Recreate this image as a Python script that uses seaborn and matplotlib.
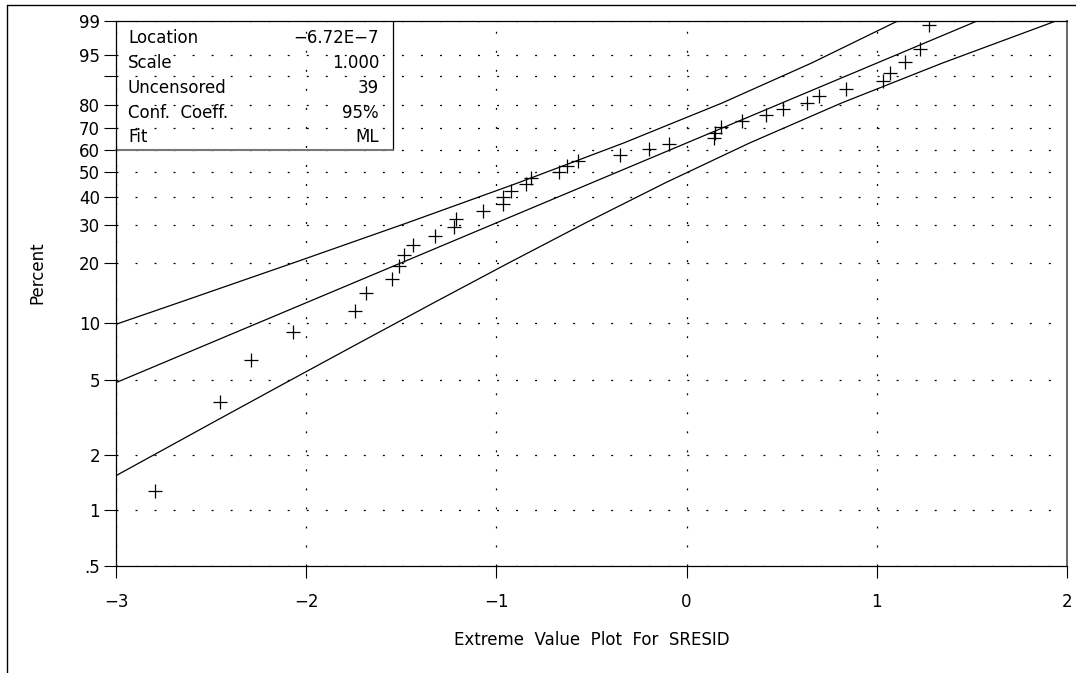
import numpy as np
import matplotlib
matplotlib.use("Agg")
import matplotlib.pyplot as plt
from matplotlib.lines import Line2D
from matplotlib.ticker import NullLocator
import seaborn as sns

# Ordered standardized residuals and their plotting positions (percent)
sresid = [-2.795, -2.454, -2.289, -2.070, -1.741, -1.683, -1.550, -1.510, -1.486,
          -1.436, -1.325, -1.225, -1.211, -1.072, -0.967, -0.967, -0.922, -0.845,
          -0.820, -0.672, -0.628, -0.572, -0.350, -0.199, -0.090, 0.142, 0.151,
          0.181, 0.291, 0.418, 0.508, 0.633, 0.697, 0.838, 1.032, 1.069, 1.149,
          1.225, 1.275]
percent = [1.28, 3.85, 6.41, 8.97, 11.54, 14.10, 16.67, 19.23, 21.79, 24.36,
           26.92, 29.49, 32.05, 34.62, 37.18, 39.74, 42.31, 44.87, 47.44, 50.00,
           52.56, 55.13, 57.69, 60.26, 62.82, 65.38, 67.95, 70.51, 73.08, 75.64,
           78.21, 80.77, 83.33, 85.90, 88.46, 91.03, 93.59, 96.15, 98.72]

# 95% confidence band around the fitted distribution
upper_x = [-3.037, -2.671, -2.066, -1.469, -0.887, -0.331, 0.186, 0.656, 1.174]
upper_pct = [9.54, 12.66, 20.00, 30.78, 45.48, 63.21, 80.77, 93.40, 99.30]
lower_x = [-3.026, -2.490, -2.106, -1.719, -1.329, -0.934, -0.531, -0.113,
           0.331, 0.814, 1.344, 2.026]
lower_pct = [1.49, 2.98, 4.86, 7.88, 12.66, 20.00, 30.78, 45.48, 63.21,
             80.77, 93.40, 99.30]

# Maximum-likelihood fit summary
location = -6.72e-7
scale = 1.000
n_uncensored = 39
conf_coeff = 95
fit_method = "ML"

x_ticks = [-3, -2, -1, 0, 1, 2]
y_ticks = [0.5, 1, 2, 5, 10, 20, 30, 40, 50, 60, 70, 80, 90, 95, 99]
y_tick_labels = [".5", "1", "2", "5", "10", "20", "30", "40", "50", "60",
                 "70", "80", "", "95", "99"]

sns.set_style("ticks")
plt.rcParams["font.family"] = ["DejaVu Sans"]
plt.rcParams["lines.scale_dashes"] = False
plt.rcParams["axes.labelcolor"] = "black"
plt.rcParams["text.color"] = "black"
FS = 12


def to_ev(p):
    """Percent -> smallest-extreme-value probability scale."""
    p = np.clip(np.asarray(p, dtype=float) / 100.0, 1e-9, 1 - 1e-12)
    return np.log(-np.log1p(-p))


def from_ev(z):
    return 100.0 * (-np.expm1(-np.exp(np.asarray(z, dtype=float))))


W, H = 1076, 673
fig = plt.figure(figsize=(W / 100, H / 100), dpi=100)
ax = fig.add_axes([116 / W, 1 - 566 / H, 951 / W, 545 / H])
ax.set_yscale("function", functions=(to_ev, from_ev))

# Fitted line from the estimated location and scale
fit_x = np.array([-3.0, 2.0])
fit_pct = from_ev((fit_x - location) / scale)

line_kw = dict(color="black", linewidth=0.9, estimator=None, sort=False,
               ax=ax, legend=False)
sns.lineplot(x=upper_x, y=upper_pct, **line_kw)
sns.lineplot(x=list(fit_x), y=list(fit_pct), **line_kw)
sns.lineplot(x=lower_x, y=lower_pct, **line_kw)
sns.scatterplot(x=sresid, y=percent, marker="+", s=95, color="black",
                linewidth=0.9, ax=ax, legend=False, zorder=3)

ax.set_xlim(-3, 2)
ax.set_ylim(0.5, 99)
ax.set_xticks(x_ticks)
ax.set_yticks(y_ticks)
ax.set_yticklabels(y_tick_labels)
ax.yaxis.set_minor_locator(NullLocator())
ax.xaxis.set_minor_locator(NullLocator())

ax.grid(True, which="major", linestyle=(0, (1.4, 12.3)), color="black",
        linewidth=0.9)
ax.tick_params(axis="both", direction="out", length=8.5, width=0.8,
               color="black", labelsize=FS, labelcolor="black")
ax.tick_params(axis="x", pad=11)
ax.tick_params(axis="y", pad=3)

for side in ("left", "bottom", "top"):
    ax.spines[side].set_color("black")
    ax.spines[side].set_linewidth(0.9)
ax.spines["right"].set_color("#666666")
ax.spines["right"].set_linewidth(1.4)

ax.set_xlabel("Extreme  Value  Plot  For  SRESID", fontsize=FS, color="black")
ax.xaxis.label.set_va("center")
ax.xaxis.set_label_coords(0.5, -0.1358)
ax.set_ylabel("Percent", fontsize=FS, color="black")
ax.yaxis.label.set_va("center")
ax.yaxis.set_label_coords(-0.083, 0.539)

# Fit summary box in the upper-left corner
box_right, box_bottom = 0.2913, 0.7624
ax.plot([box_right, box_right], [box_bottom, 1.0], transform=ax.transAxes,
        color="black", linewidth=0.9, clip_on=False)
ax.plot([0.0, box_right], [box_bottom, box_bottom], transform=ax.transAxes,
        color="#777777", linewidth=1.5, clip_on=False)

mant, expo = f"{location:.2E}".split("E")
loc_text = f"{mant}E{int(expo)}".replace("-", "\u2212")
labels = ["Location", "Scale", "Uncensored", "Conf.  Coeff.", "Fit"]
values = [loc_text, f"{scale:.3f}", f"{n_uncensored}", f"{conf_coeff}%", fit_method]
rows_y = [0.9688, 0.9229, 0.8771, 0.8312, 0.7872]
for lab, val, yy in zip(labels, values, rows_y):
    ax.text(0.0126, yy, lab, transform=ax.transAxes, ha="left", va="center",
            fontsize=FS, color="black")
    ax.text(0.2766, yy, val, transform=ax.transAxes, ha="right", va="center",
            fontsize=FS, color="black")

# Page frame along the top and left edges
fig.add_artist(Line2D([7 / W, 1.0], [1 - 4.5 / H, 1 - 4.5 / H],
                      transform=fig.transFigure, color="black", linewidth=1.0))
fig.add_artist(Line2D([7 / W, 7 / W], [0.0, 1 - 4.5 / H],
                      transform=fig.transFigure, color="black", linewidth=1.0))

fig.savefig("out.png", dpi=100, facecolor="white")
